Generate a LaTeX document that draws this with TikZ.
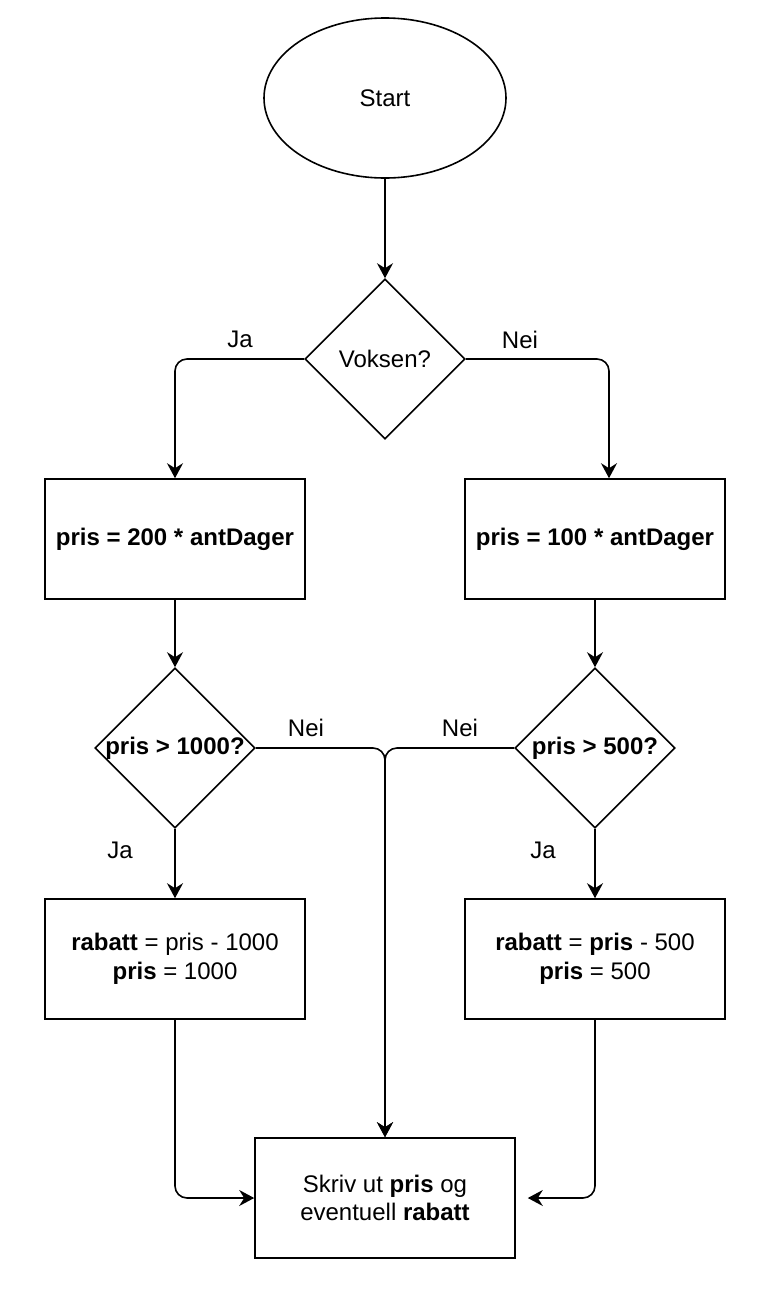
\documentclass[tikz,border=0pt]{standalone}
\usepackage{fontspec}
\setmainfont{Liberation Sans}
\usetikzlibrary{shapes.geometric,arrows.meta}
\tikzset{
    base/.style={draw, line width=1.6pt, inner sep=0pt, align=center,
        font=\fontsize{24}{28.5}\selectfont},
    terminal/.style={base, ellipse, minimum width=242pt, minimum height=160pt},
    decision/.style={base, diamond, minimum width=160pt, minimum height=160pt},
    process/.style={base, rectangle, minimum width=260pt, minimum height=120pt},
    lbl/.style={font=\fontsize{24}{28.5}\selectfont, inner sep=0pt},
    flow/.style={line width=1.6pt, rounded corners=12pt,
        -{Stealth[length=15pt,width=16pt,inset=5pt]}}
}
\begin{document}
\begin{tikzpicture}[x=1pt,y=-1pt]
    \useasboundingbox (0,0) rectangle (782,1304);
    % shapes
    \node[terminal] (start) at (385,98) {Start};
    \node[decision] (voksen) at (385,359) {\makebox[0pt]{Voksen?}};
    \node[process] (pris200) at (175,539) {\textbf{pris = 200 * antDager}};
    \node[process] (pris100) at (595,539) {\textbf{pris = 100 * antDager}};
    \node[decision] (over1000) at (175,748) {\makebox[0pt]{\textbf{pris > 1000?}}};
    \node[decision] (over500) at (595,748) {\makebox[0pt]{\textbf{pris > 500?}}};
    \node[process] (rabatt1000) at (175,959)
        {\textbf{rabatt} = pris - 1000\\\textbf{pris} = 1000};
    \node[process] (rabatt500) at (595,959)
        {\textbf{rabatt} = \textbf{pris} - 500\\\textbf{pris} = 500};
    \node[process] (skriv) at (385,1198)
        {Skriv ut \textbf{pris} og\\eventuell \textbf{rabatt}};
    \coordinate (nei1in) at ([xshift=14pt]pris100.north);
    \coordinate (skrivin) at ([xshift=12pt]skriv.east);
    % labels
    \node[lbl] (ja1) at (240,339) {Ja};
    \node[lbl] (nei1) at (520,340) {Nei};
    \node[lbl] (nei2) at (306,728) {Nei};
    \node[lbl] (nei3) at (460,728) {Nei};
    \node[lbl] (ja2) at (120,850) {Ja};
    \node[lbl] (ja3) at (543,850) {Ja};
    % connectors
    \draw[flow] (start) -- (voksen);
    \draw[flow] (voksen.west) -| (pris200.north);
    \draw[flow] (voksen.east) -| (nei1in);
    \draw[flow] (pris200) -- (over1000);
    \draw[flow] (pris100) -- (over500);
    \draw[flow] (over1000.east) -| (skriv.north);
    \draw[flow] (over500.west) -| (skriv.north);
    \draw[flow] (over1000) -- (rabatt1000);
    \draw[flow] (over500) -- (rabatt500);
    \draw[flow] (rabatt1000.south) |- (skriv.west);
    \draw[flow] (rabatt500.south) |- (skrivin);
\end{tikzpicture}
\end{document}
